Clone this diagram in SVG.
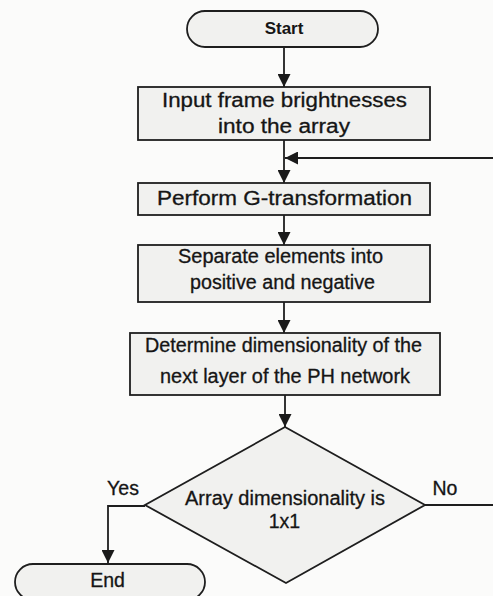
<svg xmlns="http://www.w3.org/2000/svg" width="493" height="596" viewBox="0 0 493 596">
<defs>
<marker id="arr" viewBox="0 0 13 13" refX="13" refY="6.5" markerWidth="13" markerHeight="13" markerUnits="userSpaceOnUse" orient="auto">
<path d="M0,0 L13,6.5 L0,13 Z" fill="#1a1a1a"/>
</marker>
</defs>
<style>
.bg{fill:#fbfbfa}
.node{fill:#f1f1ef;stroke:#1e1e1e;stroke-width:1.8}
.edge{fill:none;stroke:#1e1e1e;stroke-width:1.8}
text{font-family:"Liberation Sans",Arial,sans-serif;font-size:19.5px;fill:#151515;stroke:#151515;stroke-width:0.3;text-anchor:middle}
.b{font-weight:bold;font-size:17px;stroke-width:0}
</style>
<rect class="bg" x="0" y="0" width="493" height="596"/>
<g id="connectors">
<path class="edge" d="M284,47 V87" marker-end="url(#arr)"/>
<path class="edge" d="M284,140 V183" marker-end="url(#arr)"/>
<path class="edge" d="M495,158 H285" marker-end="url(#arr)"/>
<path class="edge" d="M284,215 V245" marker-end="url(#arr)"/>
<path class="edge" d="M284,302 V333" marker-end="url(#arr)"/>
<path class="edge" d="M285,395 V427" marker-end="url(#arr)"/>
<path class="edge" d="M145,506 H108 V563" marker-end="url(#arr)"/>
<path class="edge" d="M425,505 H495 V158"/>
</g>
<g id="start">
<rect class="node" x="187" y="11" width="191" height="36" rx="18"/>
<text class="b" x="284" y="34">Start</text>
</g>
<g id="input">
<rect class="node" x="138" y="87" width="292" height="53"/>
<text x="284.5" y="107" textLength="245" lengthAdjust="spacingAndGlyphs">Input frame brightnesses</text>
<text x="284" y="133" textLength="132" lengthAdjust="spacingAndGlyphs">into the array</text>
</g>
<g id="gtransform">
<rect class="node" x="138" y="183" width="292" height="32"/>
<text x="284.5" y="205" textLength="255" lengthAdjust="spacingAndGlyphs">Perform G-transformation</text>
</g>
<g id="separate">
<rect class="node" x="138" y="245" width="292" height="57"/>
<text x="280.5" y="263" textLength="205" lengthAdjust="spacingAndGlyphs">Separate elements into</text>
<text x="282.5" y="289" textLength="185" lengthAdjust="spacingAndGlyphs">positive and negative</text>
</g>
<g id="determine">
<rect class="node" x="130" y="333" width="310" height="62"/>
<text x="283.5" y="352" textLength="277" lengthAdjust="spacingAndGlyphs">Determine dimensionality of the</text>
<text x="285" y="383" textLength="250" lengthAdjust="spacingAndGlyphs">next layer of the PH network</text>
</g>
<g id="decision">
<path class="node" d="M285,427 L425,505 L286,583 L145,505 Z"/>
<text x="285" y="505" textLength="200" lengthAdjust="spacingAndGlyphs">Array dimensionality is</text>
<text x="284.5" y="528">1x1</text>
<text x="123" y="495">Yes</text>
<text x="445" y="495">No</text>
</g>
<g id="end">
<rect class="node" x="15" y="564" width="190" height="36" rx="18"/>
<text x="107.5" y="587" font-size="21">End</text>
</g>
</svg>
